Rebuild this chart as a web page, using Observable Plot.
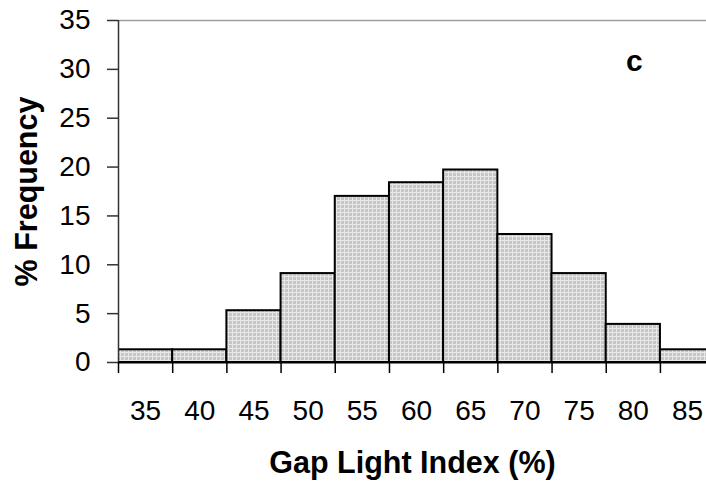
<!DOCTYPE html>
<html>
<head>
<meta charset="utf-8">
<script src="https://cdn.jsdelivr.net/npm/d3@7"></script>
<script src="https://cdn.jsdelivr.net/npm/@observablehq/plot@0.6"></script>
<style>
  html, body { margin: 0; padding: 0; background: #fff; overflow: hidden; }
  #chart { width: 706px; height: 484px; }
</style>
</head>
<body>
<div id="chart"></div>
<script>
// Data
const gapLightIndex = [35, 40, 45, 50, 55, 60, 65, 70, 75, 80, 85];
const frequency = [1.3, 1.3, 5.3, 9.1, 17.0, 18.4, 19.7, 13.1, 9.1, 3.9, 1.3];
const yTicks = [0, 5, 10, 15, 20, 25, 30, 35];
const binHalfWidth = 2.5;
const panelLabel = "c";
const panelLabelPos = [80.1, 30.8];
const xTitle = "Gap Light Index (%)";
const yTitle = "% Frequency";

const data = gapLightIndex.map((g, i) => ({gli: g, freq: frequency[i]}));
const binEdges = gapLightIndex.map(g => g - binHalfWidth).concat([gapLightIndex[gapLightIndex.length - 1] + binHalfWidth]);
const xMin = binEdges[0];

const font = "'Liberation Sans', Arial, Helvetica, sans-serif";

const chart = Plot.plot({
  width: 706,
  height: 484,
  marginLeft: 118,
  marginRight: 0,
  marginTop: 20,
  marginBottom: 122,
  style: {fontFamily: font, background: "white", overflow: "hidden"},
  x: {domain: [xMin, 86.75], axis: null},
  y: {domain: [0, 35], axis: null},
  marks: [
    Plot.rectY(data, {
      x1: d => d.gli - binHalfWidth,
      x2: d => d.gli + binHalfWidth,
      y: "freq",
      fill: "url(#grain)",
      stroke: "black",
      strokeWidth: 2,
      clip: true
    }),
    Plot.ruleY([35], {stroke: "#a0a0a0", strokeWidth: 1.5}),
    Plot.ruleX([xMin], {stroke: "#333", strokeWidth: 1.5}),
    Plot.ruleY([0], {stroke: "black", strokeWidth: 2}),
    // y ticks and labels
    Plot.axisY(yTicks, {
      tickSize: 11, tickFormat: () => "", label: null,
      stroke: "#333", strokeWidth: 1.5
    }),
    Plot.text(yTicks, {
      x: () => xMin, y: d => d, dx: -28, textAnchor: "end",
      fontSize: 28, fill: "black"
    }),
    // x ticks at bin edges and labels at bin centres
    Plot.axisX(binEdges, {
      tickSize: 11, tickFormat: () => "", label: null,
      stroke: "black", strokeWidth: 1.5
    }),
    Plot.text(gapLightIndex, {
      x: d => d, frameAnchor: "bottom", lineAnchor: "top", textAnchor: "middle", dy: 38,
      fontSize: 28, fill: "black"
    }),
    Plot.text([yTitle], {
      frameAnchor: "left", textAnchor: "middle", lineAnchor: "middle",
      rotate: -90, dx: -91,
      fontSize: 30.5, fontWeight: "bold", fill: "black"
    }),
    Plot.text([xTitle], {
      frameAnchor: "bottom", textAnchor: "middle", lineAnchor: "middle", dy: 101,
      fontSize: 30.5, fontWeight: "bold", fill: "black"
    }),
    Plot.text([panelLabel], {
      x: () => panelLabelPos[0], y: () => panelLabelPos[1],
      fontSize: 30, fontWeight: "bold", fill: "black"
    })
  ]
});

// grey dotted fill pattern used by the bars
const ns = "http://www.w3.org/2000/svg";
const defs = document.createElementNS(ns, "defs");
const pat = document.createElementNS(ns, "pattern");
pat.setAttribute("id", "grain");
pat.setAttribute("patternUnits", "userSpaceOnUse");
pat.setAttribute("width", "4");
pat.setAttribute("height", "4");
const bg = document.createElementNS(ns, "rect");
bg.setAttribute("width", "4"); bg.setAttribute("height", "4"); bg.setAttribute("fill", "#c6c6c6");
pat.appendChild(bg);
const h = document.createElementNS(ns, "rect");
h.setAttribute("width", "4"); h.setAttribute("height", "1"); h.setAttribute("fill", "#e8e8e8");
pat.appendChild(h);
const v = document.createElementNS(ns, "rect");
v.setAttribute("width", "1"); v.setAttribute("height", "4"); v.setAttribute("fill", "#e8e8e8");
pat.appendChild(v);
defs.appendChild(pat);
chart.insertBefore(defs, chart.firstChild);

document.getElementById("chart").appendChild(chart);
</script>
</body>
</html>
